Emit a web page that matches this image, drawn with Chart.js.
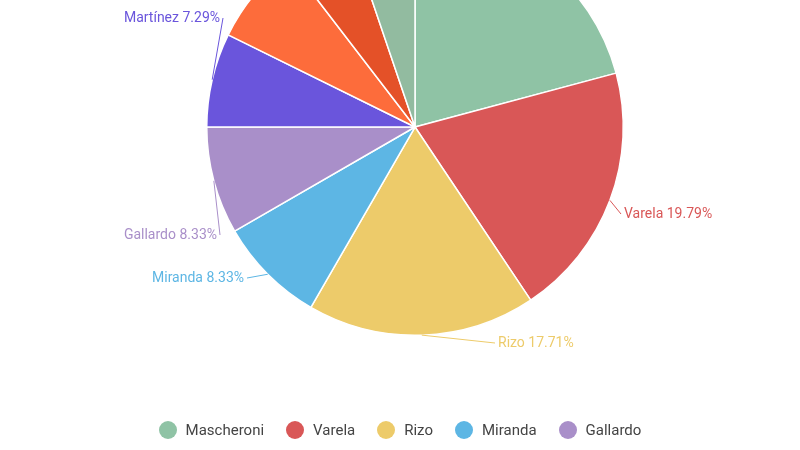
<!DOCTYPE html>
<html><head><meta charset="utf-8">
<script src="https://cdn.jsdelivr.net/npm/chart.js@4/dist/chart.umd.min.js"></script>
<style>
body{margin:0;width:800px;height:450px;overflow:hidden;background:#fff;font-family:Roboto,sans-serif;position:relative}
#wrap{position:absolute;left:0;top:-82px;width:800px;height:532px}
#legend{position:absolute;top:421px;left:0;width:800px;display:flex;justify-content:center;gap:22px;font-size:15px;color:#444}
#legend span{display:flex;align-items:center}
#legend i{display:inline-block;width:18px;height:18px;border-radius:50%;margin-right:9px}
</style></head><body>
<div id="wrap"><canvas id="c"></canvas></div>
<div id="legend"></div>
<script>
const names=['Mascheroni','Varela','Rizo','Miranda','Gallardo','Martínez','Fernández','López','Sosa'];
const values=[20,19,17,8,8,7,7,5,5];
const percents=['20.83%','19.79%','17.71%','8.33%','8.33%','7.29%','7.29%','5.21%','5.21%'];
const colors=['#8fc3a5','#d95757','#edcb6a','#5db6e4','#a98fc9','#6a55dc','#fd6c3b','#e45128','#92bba0'];
const labelPos=[null,[624,214,'left'],[498,343,'left'],[244,278,'right'],[217,235,'right'],[220,18,'right'],null,null,null];
const lg=document.getElementById('legend');
for(let i=0;i<5;i++){lg.innerHTML+=`<span><i style="background:${colors[i]}"></i>${names[i]}</span>`;}
const labels={id:'lbl',afterDraw(ch){
 const ctx=ch.ctx;ctx.save();
 const meta=ch.getDatasetMeta(0);
 meta.data.forEach((arc,i)=>{
  const p=labelPos[i];if(!p)return;
  const a=(arc.startAngle+arc.endAngle)/2;
  const x0=arc.x+Math.cos(a)*arc.outerRadius, y0=arc.y+Math.sin(a)*arc.outerRadius;
  const lx=p[0], ly=p[1]+82;
  ctx.strokeStyle=colors[i];ctx.lineWidth=1;
  ctx.beginPath();ctx.moveTo(x0,y0);ctx.lineTo(p[2]==='left'?lx-3:lx+3,ly);ctx.stroke();
  ctx.fillStyle=colors[i];ctx.font='14px Roboto';ctx.textAlign=p[2];ctx.textBaseline='middle';
  ctx.fillText(names[i]+' '+percents[i],lx,ly);
 });ctx.restore();}};
new Chart(document.getElementById('c'),{type:'pie',
 data:{labels:names,datasets:[{data:values,backgroundColor:colors,borderColor:'#fff',borderWidth:1.5}]},
 options:{responsive:true,maintainAspectRatio:false,animation:false,
  layout:{padding:{left:30,top:0,bottom:114,right:0}},
  plugins:{legend:{display:false},tooltip:{enabled:false}}},
 plugins:[labels]});
</script></body></html>
